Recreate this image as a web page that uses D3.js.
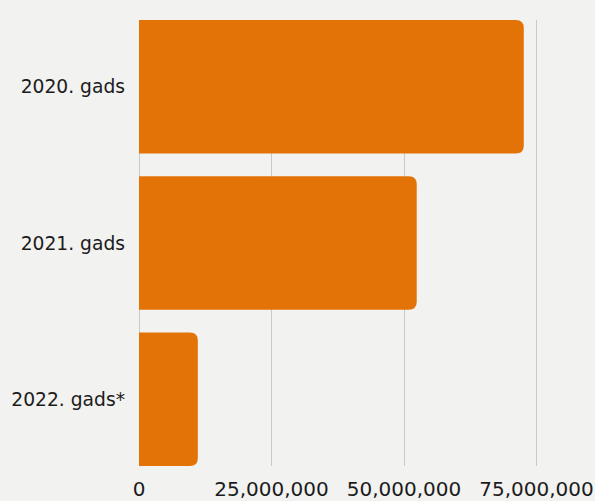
<!DOCTYPE html>
<html>
<head>
<meta charset="utf-8">
<script src="https://cdn.jsdelivr.net/npm/d3@7"></script>
<style>
  html, body { margin: 0; padding: 0; background: #f2f2f0; }
  svg { display: block; }
</style>
</head>
<body>
<svg id="chart" width="595" height="501"></svg>
<script>
const categories = ["2020. gads", "2021. gads", "2022. gads*"];
const values = [72600000, 52400000, 11100000];
const tickValues = [0, 25000000, 50000000, 75000000];
const tickLabels = ["0", "25,000,000", "50,000,000", "75,000,000"];

const svg = d3.select("#chart");
const W = 595, H = 501;
svg.append("rect").attr("width", W).attr("height", H).attr("fill", "#f2f2f0");

const x = d3.scaleLinear().domain([0, 75000000]).range([139, 536.5]);
const y = d3.scaleBand().domain(categories).range([20, 466]).paddingInner(0.145).paddingOuter(0);

// gridlines
svg.append("g").selectAll("line").data(tickValues).join("line")
  .attr("x1", d => x(d)).attr("x2", d => x(d))
  .attr("y1", 20).attr("y2", 466)
  .attr("stroke", "#c9c9c9").attr("stroke-width", 1)
  .attr("shape-rendering", "crispEdges");

// bars with rounded right corners
const r = 8;
function barPath(x0, x1, y0, h) {
  const rr = Math.min(r, (x1 - x0), h / 2);
  return `M${x0},${y0}H${x1 - rr}Q${x1},${y0} ${x1},${y0 + rr}V${y0 + h - rr}Q${x1},${y0 + h} ${x1 - rr},${y0 + h}H${x0}Z`;
}
svg.append("g").selectAll("path").data(categories).join("path")
  .attr("d", (c, i) => barPath(x(0), x(values[i]), y(c), y.bandwidth()))
  .attr("fill", "#e37307");

// y labels
svg.append("g").selectAll("text").data(categories).join("text")
  .attr("x", 125).attr("y", c => y(c) + y.bandwidth() / 2)
  .attr("text-anchor", "end").attr("dominant-baseline", "central")
  .attr("font-family", "DejaVu Sans").attr("font-size", 18.7)
  .attr("fill", "#1c1c1c")
  .text(c => c);

// x labels
svg.append("g").selectAll("text").data(tickValues).join("text")
  .attr("x", d => x(d)).attr("y", 489)
  .attr("text-anchor", "middle").attr("dominant-baseline", "central")
  .attr("font-family", "DejaVu Sans").attr("font-size", 20)
  .attr("fill", "#1c1c1c")
  .text((d, i) => tickLabels[i]);
</script>
</body>
</html>
